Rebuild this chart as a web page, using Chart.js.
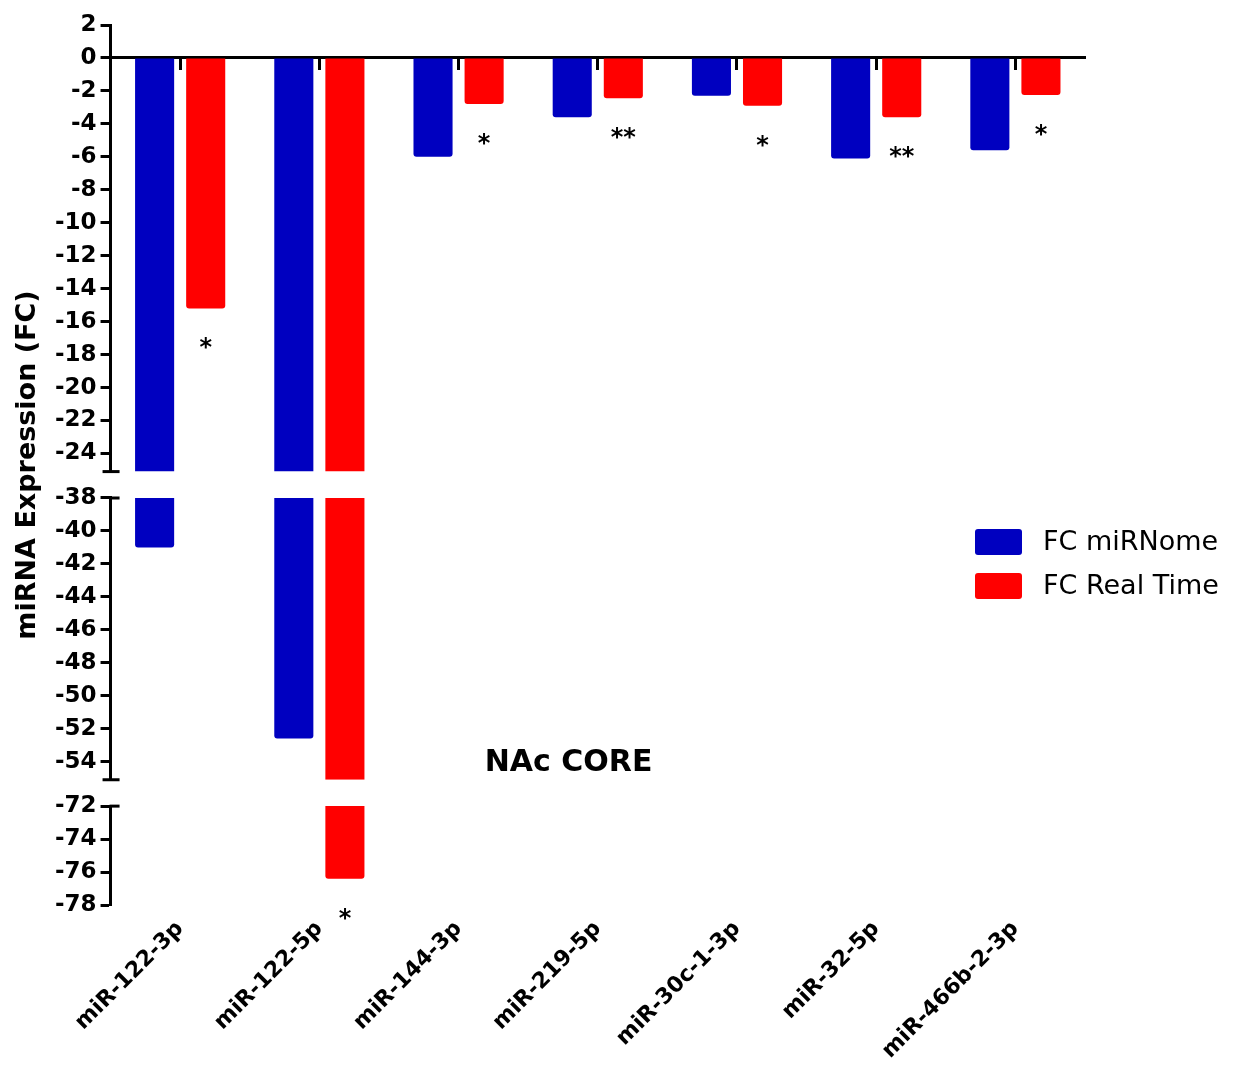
<!DOCTYPE html>
<html>
<head>
<meta charset="utf-8">
<title>NAc CORE miRNA expression</title>
<script src="https://cdn.jsdelivr.net/npm/chart.js@4.4.1/dist/chart.umd.min.js"></script>
<style>
  html, body { margin: 0; padding: 0; background: #fff; }
  #wrap { width: 1247px; height: 1066px; position: relative; }
</style>
</head>
<body>
<div id="wrap"><canvas id="fcChart"></canvas></div>
<script>
'use strict';
var mirnas = ['miR-122-3p', 'miR-122-5p', 'miR-144-3p', 'miR-219-5p', 'miR-30c-1-3p', 'miR-32-5p', 'miR-466b-2-3p'];
var fcMirnome = [-41.0, -52.6, -6.0, -3.6, -2.3, -6.1, -5.6];
var fcRealTime = [-15.2, -76.4, -2.8, -2.45, -2.9, -3.6, -2.25];
var significance = ['*', '*', '*', '**', '*', '**', '*'];
var seriesNames = ['FC miRNome', 'FC Real Time'];
var seriesColors = ['#0000C0', '#FF0000'];
// broken y axis: [bottom, top] of each piece, top piece first
var segments = [[-25.1, 2], [-55.1, -38], [-78, -72]];
var segmentIds = ['y', 'yMid', 'yLow'];
var gapWeight = 1.6;

(function nacCore () {
    var fontFamily = "'DejaVu Sans', sans-serif";
    Chart.defaults.font.family = fontFamily;
    Chart.defaults.color = '#000';

    function piece (v, k) {
        var lo = segments[k][0];
        var hi = segments[k][1];
        var start = k === 0 ? 0 : hi;
        if (v >= start) {
            return null;
        }
        return [start, Math.max(v, lo)];
    }

    var datasets = [];
    [fcMirnome, fcRealTime].forEach(function (values, s) {
        segments.forEach(function (seg, k) {
            datasets.push({
                label: seriesNames[s],
                data: values.map(function (v) { return piece(v, k); }),
                xAxisID: 'x',
                yAxisID: segmentIds[k],
                stack: 'series' + s,
                backgroundColor: seriesColors[s],
                borderRadius: values.map(function (v) { return v >= seg[0] ? 3 : 0; }),
                borderSkipped: 'start',
                categoryPercentage: 0.734,
                barPercentage: 0.765
            });
        });
    });

    var scales = {
        x: {
            type: 'category',
            position: { y: 0 },
            z: 1,
            offset: true,
            grid: { offset: false, drawOnChartArea: false, tickLength: 11, tickWidth: 3, tickColor: '#000' },
            border: { color: '#000', width: 3 },
            ticks: { display: false }
        },
        xLabels: {
            type: 'category',
            labels: mirnas,
            position: 'bottom',
            offset: true,
            grid: { display: false },
            border: { display: false },
            ticks: {
                autoSkip: false,
                maxRotation: 45,
                minRotation: 45,
                padding: 3,
                color: '#000',
                font: { size: 22, weight: 'bold' }
            },
            afterFit: function (scale) {
                scale.height = 159;
            }
        }
    };

    segments.forEach(function (seg, k) {
        scales[segmentIds[k]] = {
            type: 'linear',
            position: 'left',
            stack: 'brokenAxis',
            stackWeight: seg[1] - seg[0],
            weight: 10 - 2 * k,
            min: seg[0],
            max: seg[1],
            stacked: false,
            border: { color: '#000', width: 3 },
            grid: { drawOnChartArea: false, tickLength: 10, tickWidth: 3, tickColor: '#000' },
            ticks: {
                stepSize: 2,
                autoSkip: false,
                includeBounds: false,
                padding: 4,
                color: '#000',
                font: { size: 23, weight: 'bold' }
            }
        };
        if (k < segments.length - 1) {
            scales['gap' + k] = {
                type: 'linear',
                position: 'left',
                stack: 'brokenAxis',
                stackWeight: gapWeight,
                weight: 9 - 2 * k,
                min: 0,
                max: 1,
                grid: { display: false },
                border: { display: false },
                ticks: { display: false }
            };
        }
    });

    var decor = {
        id: 'decor',
        afterDraw: function (chart) {
            var ctx = chart.ctx;
            var ca = chart.chartArea;
            var axisX = chart.scales.y.right;
            ctx.save();

            // caps where the y axis is broken
            ctx.strokeStyle = '#000';
            ctx.lineWidth = 3;
            segmentIds.forEach(function (id, k) {
                var sc = chart.scales[id];
                ctx.beginPath();
                if (k < segmentIds.length - 1) {
                    ctx.moveTo(axisX - 8, sc.bottom);
                    ctx.lineTo(axisX + 9, sc.bottom);
                }
                if (k > 0) {
                    ctx.moveTo(axisX - 1, sc.top);
                    ctx.lineTo(axisX + 9, sc.top);
                }
                ctx.stroke();
            });

            // axis title
            ctx.fillStyle = '#000';
            ctx.font = 'bold 27px ' + fontFamily;
            ctx.textAlign = 'center';
            ctx.textBaseline = 'middle';
            ctx.save();
            ctx.translate(28, (ca.top + ca.bottom) / 2);
            ctx.rotate(-Math.PI / 2);
            ctx.fillText('miRNA Expression (FC)', 0, 0);
            ctx.restore();

            // significance marks under the Real Time bars
            var redMeta = chart.getDatasetMeta(segments.length);
            ctx.font = 'bold 24px ' + fontFamily;
            ctx.textBaseline = 'alphabetic';
            fcRealTime.forEach(function (v, i) {
                var k = 0;
                while (k < segments.length - 1 && v < segments[k][0]) {
                    k++;
                }
                var y = chart.scales[segmentIds[k]].getPixelForValue(v);
                ctx.fillText(significance[i], redMeta.data[i].x, y + 34 + 13);
            });

            // panel label
            ctx.font = 'bold 30px ' + fontFamily;
            ctx.textBaseline = 'middle';
            ctx.fillText('NAc CORE', ca.left + ca.width * 0.47, chart.scales.yMid.bottom - 17);

            // legend
            ctx.font = '27px ' + fontFamily;
            ctx.textAlign = 'left';
            seriesNames.forEach(function (name, s) {
                var bx = ca.right - 110;
                var by = chart.scales.yMid.top + 31 + s * 44;
                ctx.fillStyle = seriesColors[s];
                ctx.beginPath();
                ctx.roundRect(bx, by, 47, 26, 3);
                ctx.fill();
                ctx.fillStyle = '#000';
                ctx.fillText(name, bx + 68, by + 14);
            });

            ctx.restore();
        }
    };

    var ctx = document.getElementById('fcChart').getContext('2d');
    new Chart(ctx, {
        type: 'bar',
        data: {
            labels: mirnas,
            datasets: datasets
        },
        options: {
            responsive: true,
            maintainAspectRatio: false,
            animation: false,
            layout: { padding: { left: 51, right: 162, top: 25, bottom: 2 } },
            plugins: {
                legend: { display: false },
                tooltip: { enabled: false }
            },
            scales: scales
        },
        plugins: [decor]
    });
}());
</script>
</body>
</html>
